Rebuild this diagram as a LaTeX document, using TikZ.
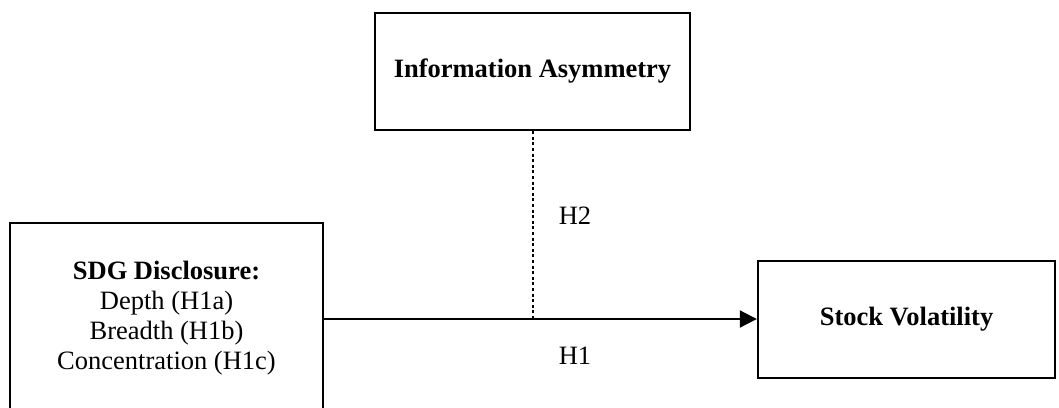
\documentclass[tikz,border=0pt]{standalone}
\usepackage{fontspec}
\setmainfont{Liberation Serif}
\usetikzlibrary{arrows.meta}
\begin{document}
\begin{tikzpicture}[x=1pt,y=-1pt,
  varbox/.style={draw,line width=2.4pt,inner sep=0pt,align=center,
    font=\fontsize{26.5}{30}\selectfont},
  link/.style={line width=2pt},
  hyplabel/.style={font=\fontsize{26.5}{30}\selectfont,inner sep=0pt}]
\useasboundingbox (0,0) rectangle (1059,407);
% variable boxes
\node[varbox,minimum width=315pt,minimum height=117pt] (ia) at (532.5,71.5)
  {\textbf{Information Asymmetry}};
\node[varbox,minimum width=313pt,minimum height=200pt] (sdg) at (166.5,323) {};
\node[align=center,font=\fontsize{26.5}{30}\selectfont,inner sep=0pt] (sdgtext) at (166.5,318)
  {\textbf{SDG Disclosure:}\\Depth (H1a)\\Breadth (H1b)\\Concentration (H1c)};
\node[varbox,minimum width=297pt,minimum height=117pt] (sv) at (906.5,319.5)
  {\textbf{Stock Volatility}};
% main effect and moderation
\coordinate (mod) at (533,319);
\draw[link,-{Triangle[length=17pt,width=17pt]}] (sdg.east |- mod) -- (sv.west |- mod);
\draw[link,dash pattern=on 3pt off 2.6pt] (ia.south -| mod) -- (mod);
\node[hyplabel] (h2) at (575,216) {H2};
\node[hyplabel] (h1) at (575,356) {H1};
\end{tikzpicture}
\end{document}
